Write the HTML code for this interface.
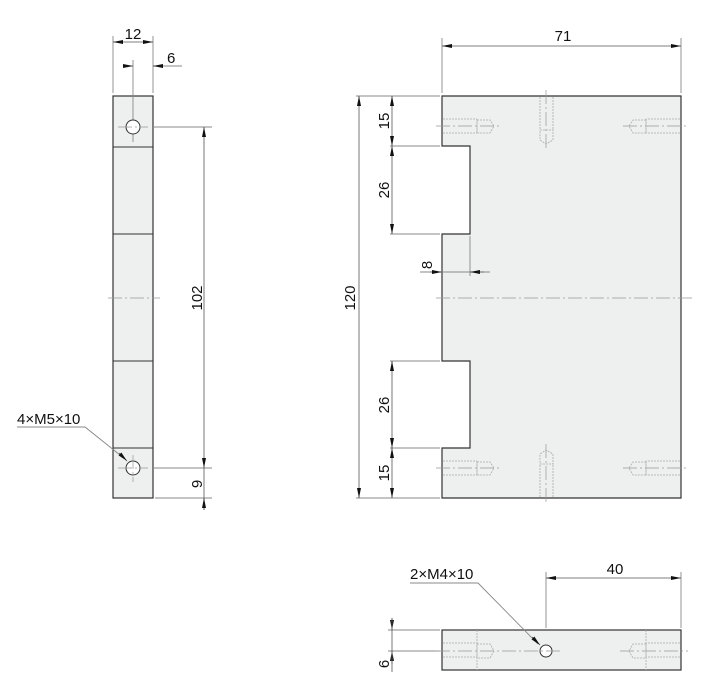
<!DOCTYPE html>
<html><head><meta charset="utf-8"><style>
html,body{margin:0;padding:0;background:#fff}
svg{display:block}
text{font-family:"Liberation Sans",sans-serif;font-size:15px;fill:#111}
</style></head><body>
<svg width="714" height="687" viewBox="0 0 714 687" xmlns="http://www.w3.org/2000/svg">
<defs>
<marker id="a" viewBox="0 0 10 4" refX="10" refY="2" markerWidth="10" markerHeight="4" orient="auto-start-reverse" markerUnits="userSpaceOnUse"><path d="M0,0 L10,2 L0,4 Z" fill="#111"/></marker>
</defs>
<g stroke="#333" stroke-width="1.2" fill="#eeefef">
<rect x="113" y="96" width="40" height="402"/>
<path d="M442,96 H681 V498 H442 V448 H470 V361 H442 V234 H470 V146 H442 Z"/>
<rect x="442" y="630" width="239" height="40"/>
</g>
<g stroke="#333" stroke-width="1">
<line x1="113" y1="147" x2="153" y2="147"/><line x1="113" y1="234" x2="153" y2="234"/>
<line x1="113" y1="361" x2="153" y2="361"/><line x1="113" y1="448" x2="153" y2="448"/>
</g>
<g stroke="#888" stroke-width="0.9" fill="none">
<line x1="113" y1="36" x2="113" y2="93"/><line x1="153" y1="36" x2="153" y2="93"/>
<line x1="133" y1="60" x2="133" y2="142"/>
<line x1="153" y1="127" x2="212" y2="127"/><line x1="153" y1="468" x2="212" y2="468"/><line x1="155" y1="498" x2="212" y2="498"/>
<line x1="153" y1="66" x2="182" y2="66"/>
<line x1="442" y1="38" x2="442" y2="93"/><line x1="681" y1="38" x2="681" y2="93"/>
<line x1="356" y1="96" x2="440" y2="96"/><line x1="356" y1="498" x2="440" y2="498"/>
<line x1="390" y1="146" x2="440" y2="146"/><line x1="390" y1="234" x2="440" y2="234"/>
<line x1="390" y1="361" x2="440" y2="361"/><line x1="390" y1="448" x2="440" y2="448"/>
<line x1="470" y1="236" x2="470" y2="276"/>
<line x1="420" y1="272" x2="490" y2="272"/>
<line x1="546" y1="572" x2="546" y2="628"/><line x1="681" y1="572" x2="681" y2="628"/>
<line x1="388" y1="630" x2="440" y2="630"/><line x1="388" y1="651" x2="440" y2="651"/>
<polyline points="17,427 85,427 125,459"/>
<polyline points="410,583 478,583 538,644"/>
</g>
<g stroke="#333" stroke-width="1" fill="#fff">
<circle cx="133" cy="127" r="7"/><circle cx="133" cy="468" r="7"/><circle cx="546" cy="651" r="6"/>
</g>
<g stroke="#999" stroke-width="0.7" fill="none" stroke-dasharray="14,3,2,3">
<line x1="108" y1="298" x2="160" y2="298"/>
<line x1="436" y1="298" x2="695" y2="298"/>
<line x1="118" y1="127" x2="148" y2="127"/><line x1="118" y1="468" x2="148" y2="468"/>
<line x1="133" y1="455" x2="133" y2="482"/>
<line x1="436" y1="126" x2="500" y2="126"/><line x1="623" y1="126" x2="688" y2="126"/>
<line x1="436" y1="468" x2="500" y2="468"/><line x1="623" y1="468" x2="688" y2="468"/>
<line x1="546" y1="90" x2="546" y2="150"/><line x1="546" y1="444" x2="546" y2="505"/>
<line x1="436" y1="651" x2="560" y2="651"/><line x1="620" y1="651" x2="688" y2="651"/>
</g>
<g stroke="#aaa" stroke-width="0.8" fill="none" stroke-dasharray="2,1">
<path d="M443,119 H477 M443,133 H477 M477,120 H490 L494,126 L490,133 H477 Z M477,119 V133"/>
<path d="M680,119 H646 M680,133 H646 M646,120 H633 L629,126 L633,133 H646 Z M646,119 V133"/>
<path d="M443,461 H477 M443,475 H477 M477,462 H490 L494,468 L490,475 H477 Z M477,461 V475"/>
<path d="M680,461 H646 M680,475 H646 M646,462 H633 L629,468 L633,475 H646 Z M646,461 V475"/>
<path d="M540,97 V130 M553,97 V130 M540,130 H553 V140 L546,144 L540,140 Z"/>
<path d="M540,497 V464 M553,497 V464 M540,464 H553 V454 L546,450 L540,454 Z"/>
<path d="M443,643 H477 M443,657 H477 M477,644 H490 L494,651 L490,658 H477 Z M477,630 V670"/>
<path d="M680,643 H646 M680,657 H646 M646,644 H633 L629,651 L633,658 H646 Z M646,630 V670"/>
</g>
<g stroke="#555" stroke-width="0.8" fill="none">
<line x1="113" y1="42" x2="153" y2="42" marker-start="url(#a)" marker-end="url(#a)"/>
<line x1="123" y1="66" x2="133" y2="66" marker-end="url(#a)"/>
<line x1="163" y1="66" x2="153" y2="66" marker-end="url(#a)"/>
<line x1="204" y1="127" x2="204" y2="468" marker-start="url(#a)" marker-end="url(#a)"/>
<line x1="204" y1="468" x2="204" y2="510"/>
<line x1="204" y1="510" x2="204" y2="498" marker-end="url(#a)"/>
<line x1="442" y1="46" x2="681" y2="46" marker-start="url(#a)" marker-end="url(#a)"/>
<line x1="359" y1="96" x2="359" y2="498" marker-start="url(#a)" marker-end="url(#a)"/>
<line x1="392" y1="96" x2="392" y2="146" marker-start="url(#a)" marker-end="url(#a)"/>
<line x1="392" y1="146" x2="392" y2="234" marker-start="url(#a)" marker-end="url(#a)"/>
<line x1="392" y1="361" x2="392" y2="448" marker-start="url(#a)" marker-end="url(#a)"/>
<line x1="392" y1="448" x2="392" y2="498" marker-start="url(#a)" marker-end="url(#a)"/>
<line x1="430" y1="272" x2="442" y2="272" marker-end="url(#a)"/>
<line x1="484" y1="272" x2="470" y2="272" marker-end="url(#a)"/>
<line x1="546" y1="578" x2="681" y2="578" marker-start="url(#a)" marker-end="url(#a)"/>
<line x1="392" y1="618" x2="392" y2="630" marker-end="url(#a)"/>
<line x1="392" y1="664" x2="392" y2="651" marker-end="url(#a)"/>
<line x1="392" y1="618" x2="392" y2="672"/>
<line x1="119" y1="453" x2="127" y2="461" marker-end="url(#a)"/>
<line x1="532" y1="637" x2="540" y2="645" marker-end="url(#a)"/>
</g>
<text x="133" y="39" text-anchor="middle">12</text>
<text x="167" y="63">6</text>
<text x="563" y="41" text-anchor="middle">71</text>
<text x="615" y="574" text-anchor="middle">40</text>
<text x="17" y="424">4×M5×10</text>
<text x="410" y="579">2×M4×10</text>
<text transform="translate(202,298) rotate(-90)" text-anchor="middle">102</text>
<text transform="translate(202,484) rotate(-90)" text-anchor="middle">9</text>
<text transform="translate(355,298) rotate(-90)" text-anchor="middle">120</text>
<text transform="translate(389,121) rotate(-90)" text-anchor="middle">15</text>
<text transform="translate(389,190) rotate(-90)" text-anchor="middle">26</text>
<text transform="translate(389,405) rotate(-90)" text-anchor="middle">26</text>
<text transform="translate(389,473) rotate(-90)" text-anchor="middle">15</text>
<text transform="translate(432,265) rotate(-90)" text-anchor="middle">8</text>
<text transform="translate(389,664) rotate(-90)" text-anchor="middle">6</text>
</svg>
</body></html>
